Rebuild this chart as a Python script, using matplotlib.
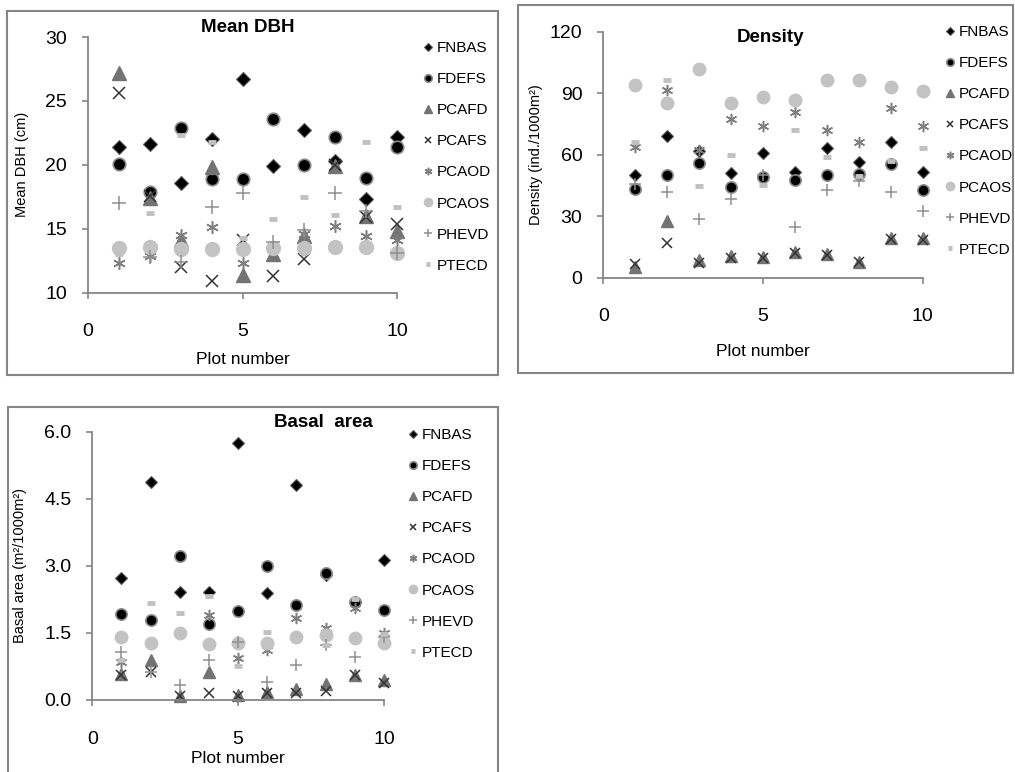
import matplotlib.pyplot as plt
from matplotlib.lines import Line2D
from matplotlib.patches import Rectangle

plt.rcParams['font.family'] = ['Liberation Sans', 'DejaVu Sans']

# Data
plots = [1, 2, 3, 4, 5, 6, 7, 8, 9, 10]
series = ["FNBAS", "FDEFS", "PCAFD", "PCAFS", "PCAOD", "PCAOS", "PHEVD", "PTECD"]

mean_dbh = {
    "FNBAS": [21.4, 21.6, 18.6, 22.0, 26.7, 19.9, 22.7, 20.3, 17.3, 22.2],
    "FDEFS": [20.1, 17.9, 22.9, 18.9, 18.9, 23.6, 20.0, 22.2, 19.0, 21.4],
    "PCAFD": [27.2, 17.4, 14.1, 19.8, 11.4, 13.0, 14.4, 19.9, 16.0, 14.8],
    "PCAFS": [25.6, 17.6, 12.0, 10.9, 14.1, 11.3, 12.6, 20.0, 15.9, 15.4],
    "PCAOD": [12.3, 12.9, 14.5, 15.1, 12.3, 13.4, 14.6, 15.2, 14.4, 14.1],
    "PCAOS": [13.5, 13.6, 13.4, 13.4, 13.4, 13.5, 13.5, 13.6, 13.6, 13.1],
    "PHEVD": [17.0, 12.8, 12.4, 16.7, 17.8, 14.0, 14.9, 17.8, 16.4, 13.1],
    "PTECD": [13.0, 16.2, 22.3, 21.8, 14.3, 15.8, 17.5, 16.1, 21.8, 16.7],
}

density = {
    "FNBAS": [50.1, 69.1, 61.7, 50.9, 60.9, 51.4, 63.4, 56.3, 66.1, 51.8],
    "FDEFS": [43.3, 50.1, 55.8, 44.1, 49.0, 47.8, 50.1, 50.6, 55.5, 42.9],
    "PCAFD": [5.0, 27.8, 8.5, 10.5, 10.0, 12.5, 11.5, 7.5, 19.5, 19.5],
    "PCAFS": [6.9, 16.7, 7.3, 9.5, 9.5, 12.0, 11.0, 7.8, 19.0, 18.5],
    "PCAOD": [63.7, 91.4, 62.4, 77.2, 73.8, 80.8, 72.2, 66.1, 83.0, 73.8],
    "PCAOS": [94.2, 85.2, 102.0, 85.2, 88.1, 86.5, 96.3, 96.3, 93.1, 91.1],
    "PHEVD": [45.7, 41.6, 28.6, 38.4, 50.0, 24.5, 42.8, 47.4, 41.6, 32.3],
    "PTECD": [66.1, 96.3, 44.9, 59.9, 45.0, 72.2, 59.1, 49.8, 57.1, 63.2],
}

basal_area = {
    "FNBAS": [2.72, 4.88, 2.41, 2.42, 5.74, 2.40, 4.81, 2.80, 2.20, 3.13],
    "FDEFS": [1.92, 1.80, 3.22, 1.71, 1.99, 3.00, 2.12, 2.83, 2.20, 2.01],
    "PCAFD": [0.58, 0.89, 0.10, 0.62, 0.11, 0.18, 0.24, 0.36, 0.56, 0.45],
    "PCAFS": [0.55, 0.62, 0.09, 0.15, 0.09, 0.15, 0.15, 0.20, 0.55, 0.37],
    "PCAOD": [0.85, 1.25, 1.49, 1.90, 0.93, 1.12, 1.83, 1.60, 2.05, 1.50],
    "PCAOS": [1.40, 1.27, 1.49, 1.25, 1.28, 1.27, 1.42, 1.45, 1.39, 1.27],
    "PHEVD": [1.08, 0.62, 0.34, 0.89, 1.30, 0.41, 0.78, 1.23, 0.97, 1.40],
    "PTECD": [0.89, 2.18, 1.94, 2.33, 0.76, 1.51, 1.45, 1.23, 2.25, 1.48],
}

# Marker styles (Excel-like greyscale)
styles = {
    "FNBAS": dict(marker="D", mfc="black", mec="#5a5a5a", ms=7.3, mew=0.8),
    "FDEFS": dict(marker="o", mfc="black", mec="#8a8a8a", ms=9, mew=1.2),
    "PCAFD": dict(marker="^", mfc="#737373", mec="#737373", ms=10, mew=1),
    "PCAFS": dict(marker="x", mfc="#333333", mec="#333333", ms=8, mew=1.1),
    "PCAOD": dict(marker=(6, 2, 0), mfc="#7f7f7f", mec="#7f7f7f", ms=9, mew=1.1),
    "PCAOS": dict(marker="o", mfc="#c3c3c3", mec="#c3c3c3", ms=10, mew=1),
    "PHEVD": dict(marker="+", mfc="#8f8f8f", mec="#8f8f8f", ms=10, mew=1.1),
    "PTECD": dict(marker="_", mfc="#c0c0c0", mec="#c0c0c0", ms=6, mew=3.5),
}

W, H = 1015, 772
GREY = "#868686"
fig = plt.figure(figsize=(W / 100, H / 100), dpi=100)


def px_axes(x0, y_top, x1, y_bot):
    return fig.add_axes([x0 / W, 1 - y_bot / H, (x1 - x0) / W, (y_bot - y_top) / H])


def box(x0, y0, x1, y1):
    fig.patches.append(Rectangle((x0 / W, 1 - y1 / H), (x1 - x0) / W, (y1 - y0) / H,
                                 transform=fig.transFigure, fill=False,
                                 edgecolor=GREY, lw=1.5))


def panel(ax, data, scale, title, title_xy, ylabel, ylab_x, xlab_y, ylim, yticks, yfmt, leg_xy):
    for s in series:
        st = dict(styles[s])
        st["ms"] = st["ms"] * scale
        ax.plot(plots, data[s], ls="none", clip_on=False, **st)
    ax.set_xlim(0, 10)
    ax.set_xticks([0, 5, 10])
    ax.set_ylim(*ylim)
    ax.set_yticks(yticks)
    ax.set_yticklabels([yfmt.format(v) for v in yticks])
    for sp in ["top", "right"]:
        ax.spines[sp].set_visible(False)
    for sp in ["left", "bottom"]:
        ax.spines[sp].set_color(GREY)
        ax.spines[sp].set_linewidth(1.3)
    ax.tick_params(direction="out", length=4, width=1.2, color=GREY, labelsize=14)
    ax.tick_params(axis="x", pad=18)
    ax.tick_params(axis="y", pad=11)
    ax.set_xlabel("Plot number", fontsize=12.5)
    ax.xaxis.set_label_coords(0.5, xlab_y)
    ax.set_ylabel(ylabel, fontsize=10.5)
    ax.yaxis.set_label_coords(ylab_x, 0.5)
    fig.text(title_xy[0] / W, 1 - title_xy[1] / H, title, fontsize=13.5,
             fontweight="bold", ha="center", va="center")
    handles = []
    for s in series:
        st = dict(styles[s])
        st["ms"] = st["ms"] * 0.6
        handles.append(Line2D([], [], ls="none", **st))
    ax.legend(handles, series, loc="upper left",
              bbox_to_anchor=(leg_xy[0] / W, 1 - leg_xy[1] / H),
              bbox_transform=fig.transFigure, frameon=False, fontsize=11,
              borderpad=0, borderaxespad=0, handlelength=0.8,
              handletextpad=0.15, labelspacing=1.12)


# panel frames
box(7, 11, 498, 375)
box(518, 5, 1013, 373)
box(8, 407, 498, 790)

ax1 = px_axes(87.7, 37, 397.3, 292.7)
panel(ax1, mean_dbh, 1.0, "Mean DBH", (248, 28), "Mean DBH (cm)", -0.19, -0.232,
      (10, 30), [10, 15, 20, 25, 30], "{:.0f}", (422, 41))

ax2 = px_axes(603.3, 31.7, 922.7, 277.7)
panel(ax2, density, 0.9, "Density", (771, 38), "Density (ind./1000m\u00b2)", -0.189, -0.27,
      (0, 120), [0, 30, 60, 90, 120], "{:.0f}", (944, 25))

ax3 = px_axes(92.3, 431.7, 384, 700)
panel(ax3, basal_area, 0.9, "Basal  area", (323, 423), "Basal area (m\u00b2/1000m\u00b2)", -0.224, -0.19,
      (0, 6), [0, 1.5, 3.0, 4.5, 6.0], "{:.1f}", (407, 428))

fig.savefig("out.png", dpi=100)
